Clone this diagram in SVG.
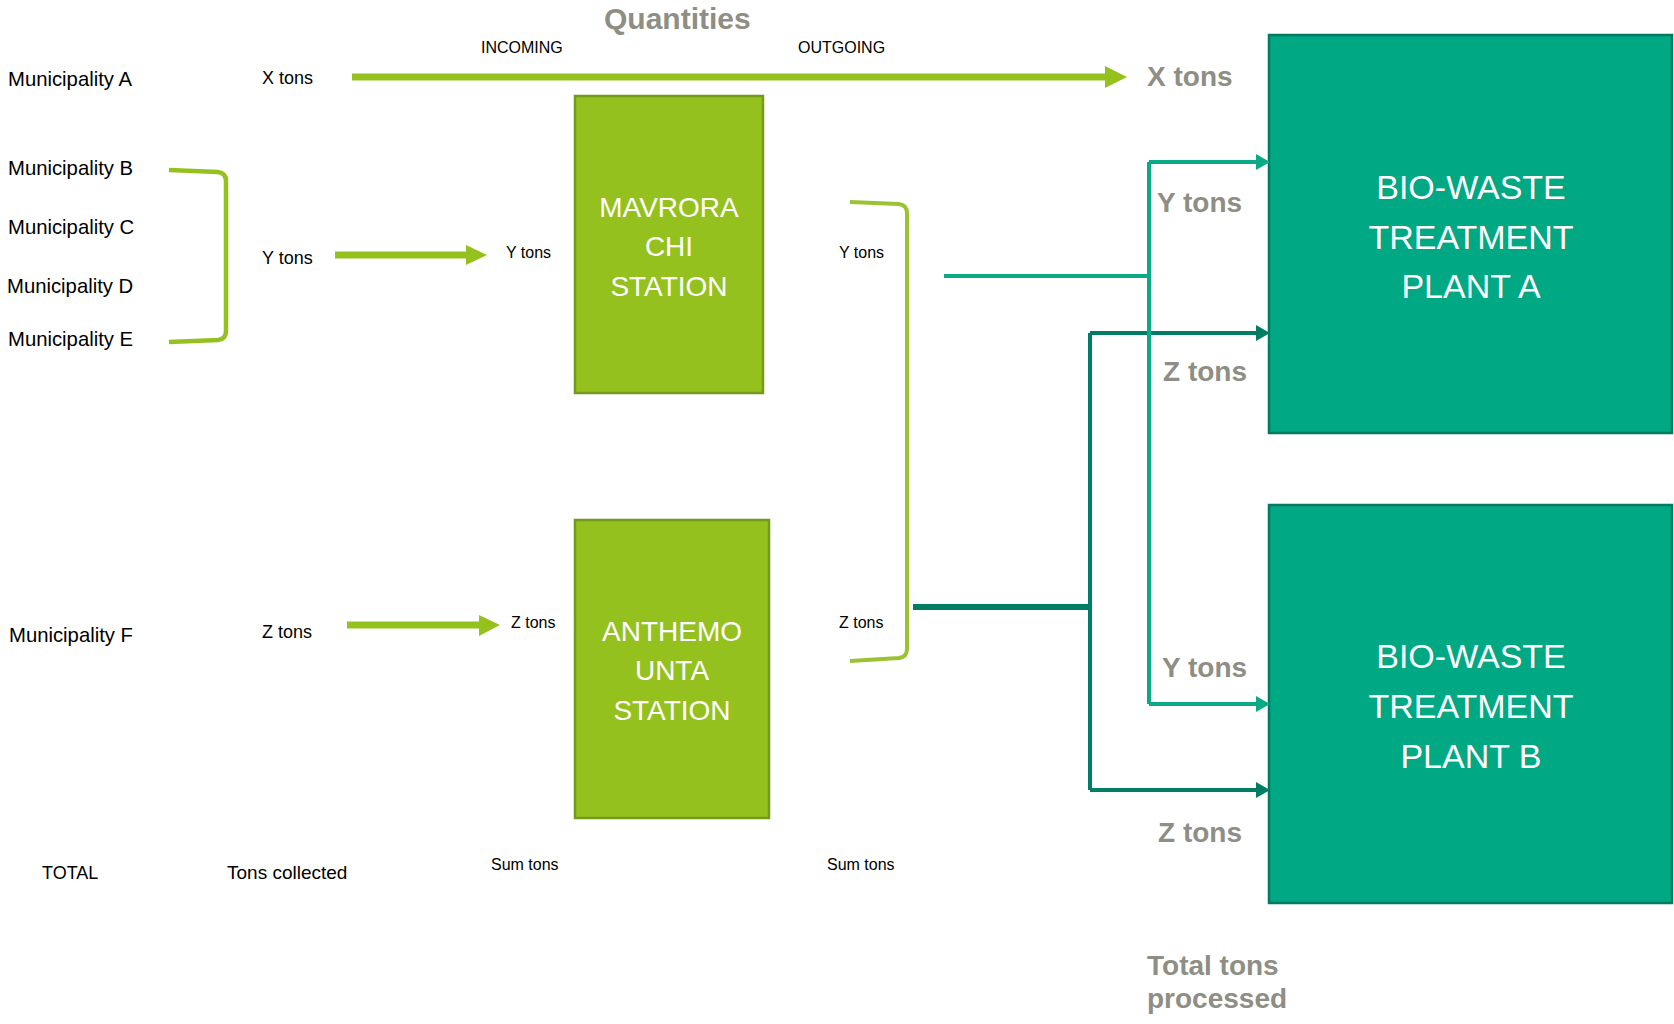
<svg xmlns="http://www.w3.org/2000/svg" width="1674" height="1024" viewBox="0 0 1674 1024">
<style>
text{font-family:"Liberation Sans",Arial,sans-serif}
.lbl{font-size:19px;fill:#000}
.mun{font-size:20.3px;fill:#000}
.sm{font-size:16px;fill:#000}
.md{font-size:18px;fill:#000}
.gray{font-size:28px;font-weight:bold;fill:#8E8E84}
.box-lbl{font-size:28px;fill:#fff;text-anchor:middle}
.plant-lbl{font-size:34px;fill:#fff;text-anchor:middle}
.station{fill:#95C11F;stroke:#739A1A;stroke-width:2.5}
.plant{fill:#00A884;stroke:#007A60;stroke-width:2.5}
.gline{fill:none;stroke:#95C11F;stroke-width:7}
.bracket{fill:none;stroke:#95C11F;stroke-width:4.5}
.yline{fill:none;stroke:#0AAA86;stroke-width:4}
.zline{fill:none;stroke:#007D63;stroke-width:4}
</style>

<g id="header">
<text x="604" y="29" class="gray" style="font-size:30px">Quantities</text>
<text x="481" y="53" class="sm">INCOMING</text>
<text x="798" y="53" class="sm">OUTGOING</text>
</g>

<g id="municipalities">
<text x="8" y="86" class="mun">Municipality A</text>
<text x="8" y="175" class="mun">Municipality B</text>
<text x="8" y="234" class="mun">Municipality C</text>
<text x="7" y="293" class="mun">Municipality D</text>
<text x="8" y="346" class="mun">Municipality E</text>
<text x="9" y="642" class="mun">Municipality F</text>
</g>

<g id="collected">
<text x="262" y="84" class="md">X tons</text>
<text x="262" y="264" class="md">Y tons</text>
<text x="262" y="638" class="md">Z tons</text>
</g>

<g id="station-labels">
<text x="506" y="258" class="sm">Y tons</text>
<text x="839" y="258" class="sm">Y tons</text>
<text x="511" y="628" class="sm">Z tons</text>
<text x="839" y="628" class="sm">Z tons</text>
</g>

<g id="totals">
<text x="42" y="879" class="md">TOTAL</text>
<text x="227" y="879" class="lbl">Tons collected</text>
<text x="491" y="870" class="sm">Sum tons</text>
<text x="827" y="870" class="sm">Sum tons</text>
</g>

<g id="mavrorachi">
<rect x="575" y="96" width="188" height="297" class="station"/>
<text x="669" y="217" class="box-lbl">MAVRORA</text>
<text x="669" y="256" class="box-lbl">CHI</text>
<text x="669" y="296" class="box-lbl">STATION</text>
</g>

<g id="anthemounta">
<rect x="575" y="520" width="194" height="298" class="station"/>
<text x="672" y="641" class="box-lbl">ANTHEMO</text>
<text x="672" y="680" class="box-lbl">UNTA</text>
<text x="672" y="720" class="box-lbl">STATION</text>
</g>

<g id="plant-a">
<rect x="1269" y="35" width="403" height="398" class="plant"/>
<text x="1471" y="199" class="plant-lbl">BIO-WASTE</text>
<text x="1471" y="249" class="plant-lbl">TREATMENT</text>
<text x="1471" y="298" class="plant-lbl">PLANT A</text>
</g>

<g id="plant-b">
<rect x="1269" y="505" width="403" height="398" class="plant"/>
<text x="1471" y="668" class="plant-lbl">BIO-WASTE</text>
<text x="1471" y="718" class="plant-lbl">TREATMENT</text>
<text x="1471" y="768" class="plant-lbl">PLANT B</text>
</g>

<g id="connectors">
<path d="M352,77 H1108" class="gline"/>
<polygon points="1105,66 1127,77 1105,88" fill="#95C11F"/>
<path d="M335,255 H468" class="gline"/>
<polygon points="466,245 487,255 466,265" fill="#95C11F"/>
<path d="M347,625 H481" class="gline"/>
<polygon points="479,615 500,625 479,636" fill="#95C11F"/>
<path d="M169,170 L218,172 Q226,173 226,181 L226,331 Q226,339 218,340 L169,342" class="bracket"/>
<path d="M850,202 L899,204 Q907,205 907,213 L907,649 Q907,657 899,658 L850,661" class="bracket" style="stroke:#9BC232;stroke-width:4"/>
<path d="M913,607 H1090" class="zline" style="stroke-width:6"/>
<path d="M1090,333 V790 M1090,333 H1257 M1090,790 H1257" class="zline"/>
<polygon points="1256,325 1270,333 1256,341" fill="#007D63"/>
<polygon points="1256,782 1270,790 1256,798" fill="#007D63"/>
<path d="M944,276 H1149 M1149,162 V704 M1149,162 H1257 M1149,704 H1257" class="yline"/>
<polygon points="1256,154 1270,162 1256,170" fill="#0AAA86"/>
<polygon points="1256,696 1270,704 1256,712" fill="#0AAA86"/>
</g>

<g id="flow-labels">
<text x="1147" y="86" class="gray">X tons</text>
<text x="1157" y="212" class="gray">Y tons</text>
<text x="1163" y="381" class="gray">Z tons</text>
<text x="1162" y="677" class="gray">Y tons</text>
<text x="1158" y="842" class="gray">Z tons</text>
<text x="1147" y="975" class="gray">Total tons</text>
<text x="1147" y="1008" class="gray">processed</text>
</g>
</svg>
